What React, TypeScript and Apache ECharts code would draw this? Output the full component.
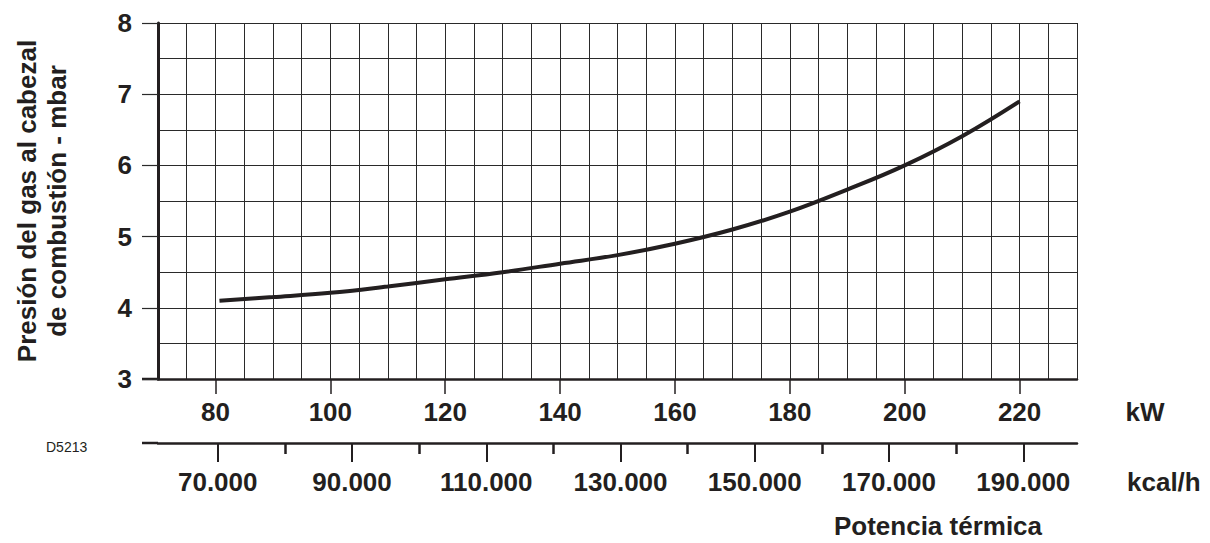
import React, { useEffect, useRef } from 'react';
import * as echarts from 'echarts';

// Data
const kwValues = [80.7, 90, 100, 110, 120, 130, 140, 150, 160, 170, 180, 190, 200, 210, 220];
const mbarValues = [4.10, 4.15, 4.21, 4.30, 4.40, 4.50, 4.62, 4.74, 4.90, 5.10, 5.35, 5.66, 6.00, 6.41, 6.90];
const kwTicks = [80, 100, 120, 140, 160, 180, 200, 220];
const kcalTicks = [70000, 90000, 110000, 130000, 150000, 170000, 190000];
const kcalMinorTicks = [80000, 100000, 120000, 140000, 160000, 180000];
const mbarTicks = [3, 4, 5, 6, 7, 8];

const INK = '#231f20';
const GRID = '#2a2a2a';
const FONT = '"Liberation Sans", Arial, Helvetica, sans-serif';

export default function App() {
  const ref = useRef<HTMLDivElement>(null);

  useEffect(() => {
    const chart = echarts.init(ref.current!, null, { renderer: 'svg' });
    const labelStyle = {
      fontFamily: FONT,
      fontSize: 26,
      fontWeight: 'bold' as const,
      color: INK,
    };
    const hidden = {
      axisLine: { show: false, onZero: false },
      axisTick: { show: false },
      axisLabel: { show: false },
    };
    chart.setOption({
      animation: false,
      backgroundColor: '#ffffff',
      grid: { left: 158, right: 133, top: 23, bottom: 164, containLabel: false },
      xAxis: [
        {
          type: 'value',
          min: 70,
          max: 230,
          interval: 5,
          axisLine: { show: true, onZero: false, lineStyle: { color: INK, width: 2.5 } },
          axisTick: { show: true, customValues: kwTicks, length: 15, lineStyle: { color: INK, width: 1.5 } },
          axisLabel: { customValues: kwTicks, margin: 20, ...labelStyle },
          splitLine: { show: false },
          z: 3,
        },
        {
          type: 'value',
          position: 'bottom',
          offset: 64,
          min: 61100,
          max: 198000,
          axisLine: { show: true, onZero: false, lineStyle: { color: INK, width: 2.5 } },
          axisTick: { show: true, customValues: kcalTicks, length: 19, lineStyle: { color: INK, width: 2 } },
          axisLabel: {
            customValues: kcalTicks,
            margin: 26,
            ...labelStyle,
            formatter: (v: number) => `${Math.round(v / 1000)}.000`,
          },
          splitLine: { show: false },
        },
        {
          type: 'value',
          position: 'bottom',
          offset: 64,
          min: 61100,
          max: 198000,
          axisLine: { show: false, onZero: false },
          axisTick: { show: true, customValues: kcalMinorTicks, length: 11, lineStyle: { color: INK, width: 2.5 } },
          axisLabel: { show: false },
          splitLine: { show: false },
        },
        {
          type: 'value',
          position: 'bottom',
          min: 70,
          max: 230,
          interval: 5,
          ...hidden,
          splitLine: { show: true, lineStyle: { color: GRID, width: 1 } },
        },
      ],
      yAxis: [
        {
          type: 'value',
          min: 3,
          max: 8,
          interval: 0.5,
          axisLine: { show: true, onZero: false, lineStyle: { color: INK, width: 3 } },
          axisTick: { show: true, customValues: mbarTicks, length: 16, lineStyle: { color: GRID, width: 1.2 } },
          axisLabel: { customValues: mbarTicks, margin: 26, ...labelStyle },
          splitLine: { show: false },
          z: 3,
        },
        {
          type: 'value',
          position: 'left',
          min: 3,
          max: 8,
          interval: 0.5,
          ...hidden,
          splitLine: { show: true, lineStyle: { color: GRID, width: 1 } },
        },
      ],
      series: [
        {
          type: 'line',
          xAxisIndex: 0,
          yAxisIndex: 0,
          data: kwValues.map((k, i) => [k, mbarValues[i]]),
          smooth: 0.4,
          symbol: 'none',
          lineStyle: { color: INK, width: 4, cap: 'butt' },
          z: 5,
        },
      ],
      graphic: [
        {
          type: 'line',
          shape: { x1: 142, y1: 379, x2: 158, y2: 379 },
          style: { stroke: INK, lineWidth: 2.5 },
        },
        {
          type: 'line',
          shape: { x1: 142, y1: 443, x2: 158, y2: 443 },
          style: { stroke: INK, lineWidth: 2.5 },
        },
        {
          type: 'text',
          x: 42,
          y: 201,
          rotation: Math.PI / 2,
          style: {
            text: 'Presión del gas al cabezal\nde combustión - mbar',
            fontFamily: FONT,
            fontSize: 26,
            fontWeight: 'bold',
            lineHeight: 30,
            align: 'center',
            verticalAlign: 'middle',
            fill: INK,
          },
        },
        {
          type: 'text',
          x: 1145,
          y: 412,
          style: {
            text: 'kW',
            fontFamily: FONT,
            fontSize: 26,
            fontWeight: 'bold',
            align: 'center',
            verticalAlign: 'middle',
            fill: INK,
          },
        },
        {
          type: 'text',
          x: 1127,
          y: 482,
          style: {
            text: 'kcal/h',
            fontFamily: FONT,
            fontSize: 26,
            fontWeight: 'bold',
            align: 'left',
            verticalAlign: 'middle',
            fill: INK,
          },
        },
        {
          type: 'text',
          x: 938,
          y: 526,
          style: {
            text: 'Potencia térmica',
            fontFamily: FONT,
            fontSize: 26,
            fontWeight: 'bold',
            align: 'center',
            verticalAlign: 'middle',
            fill: INK,
          },
        },
        {
          type: 'text',
          x: 46,
          y: 447,
          style: {
            text: 'D5213',
            fontFamily: FONT,
            fontSize: 14,
            align: 'left',
            verticalAlign: 'middle',
            fill: INK,
          },
        },
      ],
    });
    return () => chart.dispose();
  }, []);

  return (
    <div
      ref={ref}
      style={{ position: 'absolute', left: 0, top: 0, width: 1210, height: 543, background: '#fff' }}
    />
  );
}
